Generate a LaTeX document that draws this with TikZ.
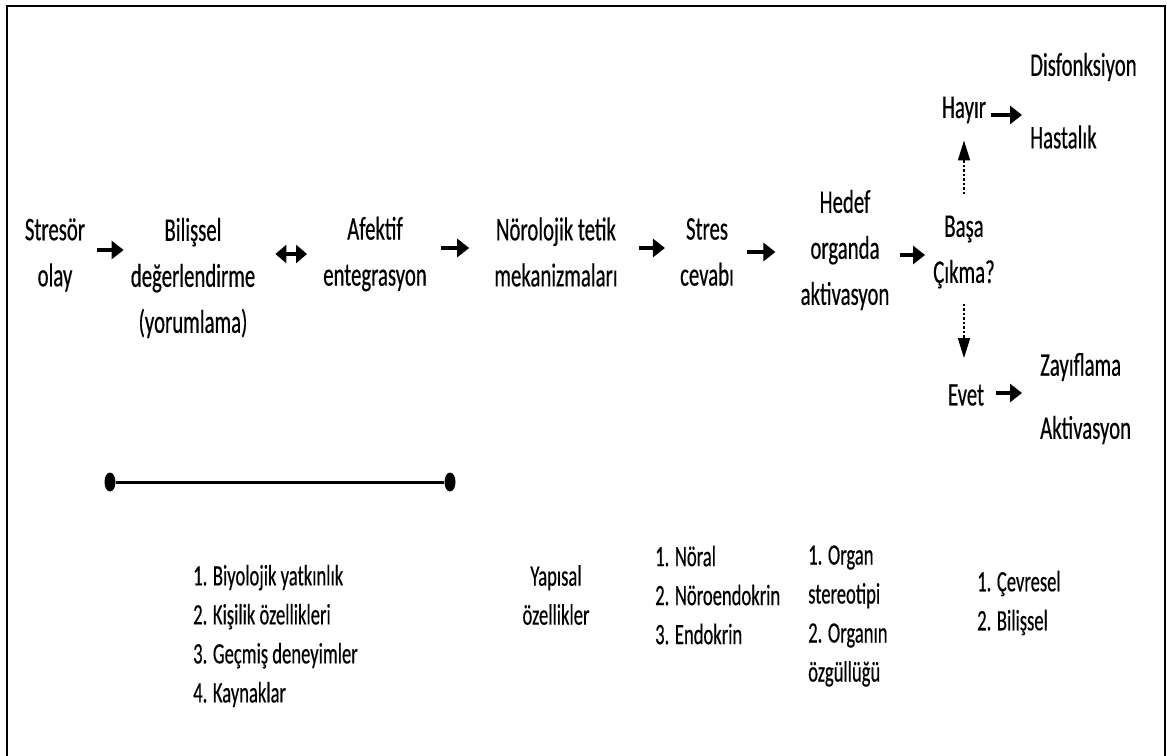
\documentclass[tikz,border=0pt]{standalone}
\usepackage{fontspec}
\setmainfont{Carlito}[FakeStretch=0.63,FakeBold=0.4]
\usetikzlibrary{arrows.meta,shapes.geometric}
\begin{document}
\begin{tikzpicture}[x=1pt,y=-1pt,
  lbl/.style={inner sep=0pt, font=\fontsize{33}{46}\selectfont, align=center},
  lst/.style={inner sep=0pt, font=\fontsize{29.5}{39}\selectfont, align=left},
  arr/.style={line width=4.5pt, -{Triangle[length=12pt,width=18pt]}},
  darr/.style={line width=1.6pt, dash pattern=on 2.5pt off 2pt, -{Triangle[length=20pt,width=12pt]}},
  dblarr/.style={line width=4.5pt, {Triangle[length=11pt,width=18pt]}-{Triangle[length=11pt,width=18pt]}},
  enddot/.style={ellipse, fill=black, minimum width=11pt, minimum height=19pt, inner sep=0pt}]
\useasboundingbox (0,0) rectangle (1167,755);
\draw[line width=2.5pt] (7,760) -- (7,6) -- (1165,6) -- (1165,760);

% main flow
\node[lbl] (stresor) at (55,255) {Stresör\\olay};
\node[lbl] (bilissel) at (193,278) {Bilişsel\\değerlendirme\\(yorumlama)};
\node[lbl] (afektif) at (375,254) {Afektif\\entegrasyon};
\node[lbl] (norolojik) at (556,252) {Nörolojik tetik\\mekanizmaları};
\node[lbl] (stres) at (707,252) {Stres\\cevabı};
\node[lbl] (hedef) at (845,250) {Hedef\\organda\\aktivasyon};
\node[lbl] (basa) at (964,252) {Başa\\Çıkma?};
\node[lbl] (hayir) at (964,110) {Hayır};
\node[lbl] (evet) at (966,395) {Evet};
\node[lbl,anchor=west] (disf) at (1030,67) {Disfonksiyon};
\node[lbl,anchor=west] (hastalik) at (1030,137) {Hastalık};
\node[lbl,anchor=west] (zayif) at (1040,367) {Zayıflama};
\node[lbl,anchor=west] (aktiv) at (1040,430) {Aktivasyon};

% arrows
\draw[arr] ([xshift=12pt,yshift=5pt]stresor.east) -- ([xshift=-7pt,yshift=5pt]stresor.east -| bilissel.west);
\draw[dblarr] ([xshift=20pt]afektif.west -| bilissel.east) -- ([xshift=-16pt]afektif.west);
\draw[arr] ([xshift=14pt,yshift=6pt]afektif.east) -- ([xshift=-25pt,yshift=6pt]afektif.east -| norolojik.west);
\draw[arr] ([xshift=21pt,yshift=4pt]norolojik.east) -- ([xshift=-15pt,yshift=4pt]norolojik.east -| stres.west);
\draw[arr] ([xshift=13pt]stres.east) -- ([xshift=-25pt]stres.east -| hedef.west);
\draw[arr] ([xshift=10pt,yshift=-5pt]hedef.east) -- ([xshift=-8pt,yshift=-5pt]hedef.east -| basa.west);
\draw[darr] ([yshift=-15pt]basa.south) -- ([yshift=26pt]evet.north -| basa.south);
\draw[darr] ([yshift=21pt]basa.north) -- ([yshift=-17pt]hayir.south -| basa.north);
\draw[arr] ([xshift=5pt,yshift=-5pt]hayir.east) -- ([xshift=-8pt,yshift=-5pt]hayir.east -| hastalik.west);
\draw[arr] ([xshift=12pt,yshift=2pt]evet.east) -- ([xshift=-18pt,yshift=2pt]evet.east -| zayif.west);

% bar
\node[enddot] (dl) at (110,482) {};
\node[enddot] (dr) at (450,482) {};
\draw[line width=3pt] (dl) -- (dr);

% lists
\node[lst,anchor=west] (list1) at (193,636) {1. Biyolojik yatkınlık\\2. Kişilik özellikleri\\3. Geçmiş deneyimler\\4. Kaynaklar};
\node[lst,align=center] (yapisal) at (556,595) {Yapısal\\özellikler};
\node[lst,anchor=west] (noral) at (655,595) {1. Nöral\\2. Nöroendokrin\\3. Endokrin};
\node[lst,anchor=west] (organ) at (808,616) {1. Organ\\stereotipi\\2. Organın\\özgüllüğü};
\node[lst,anchor=west] (cevre) at (977,603) {1. Çevresel\\2. Bilişsel};
\end{tikzpicture}
\end{document}
